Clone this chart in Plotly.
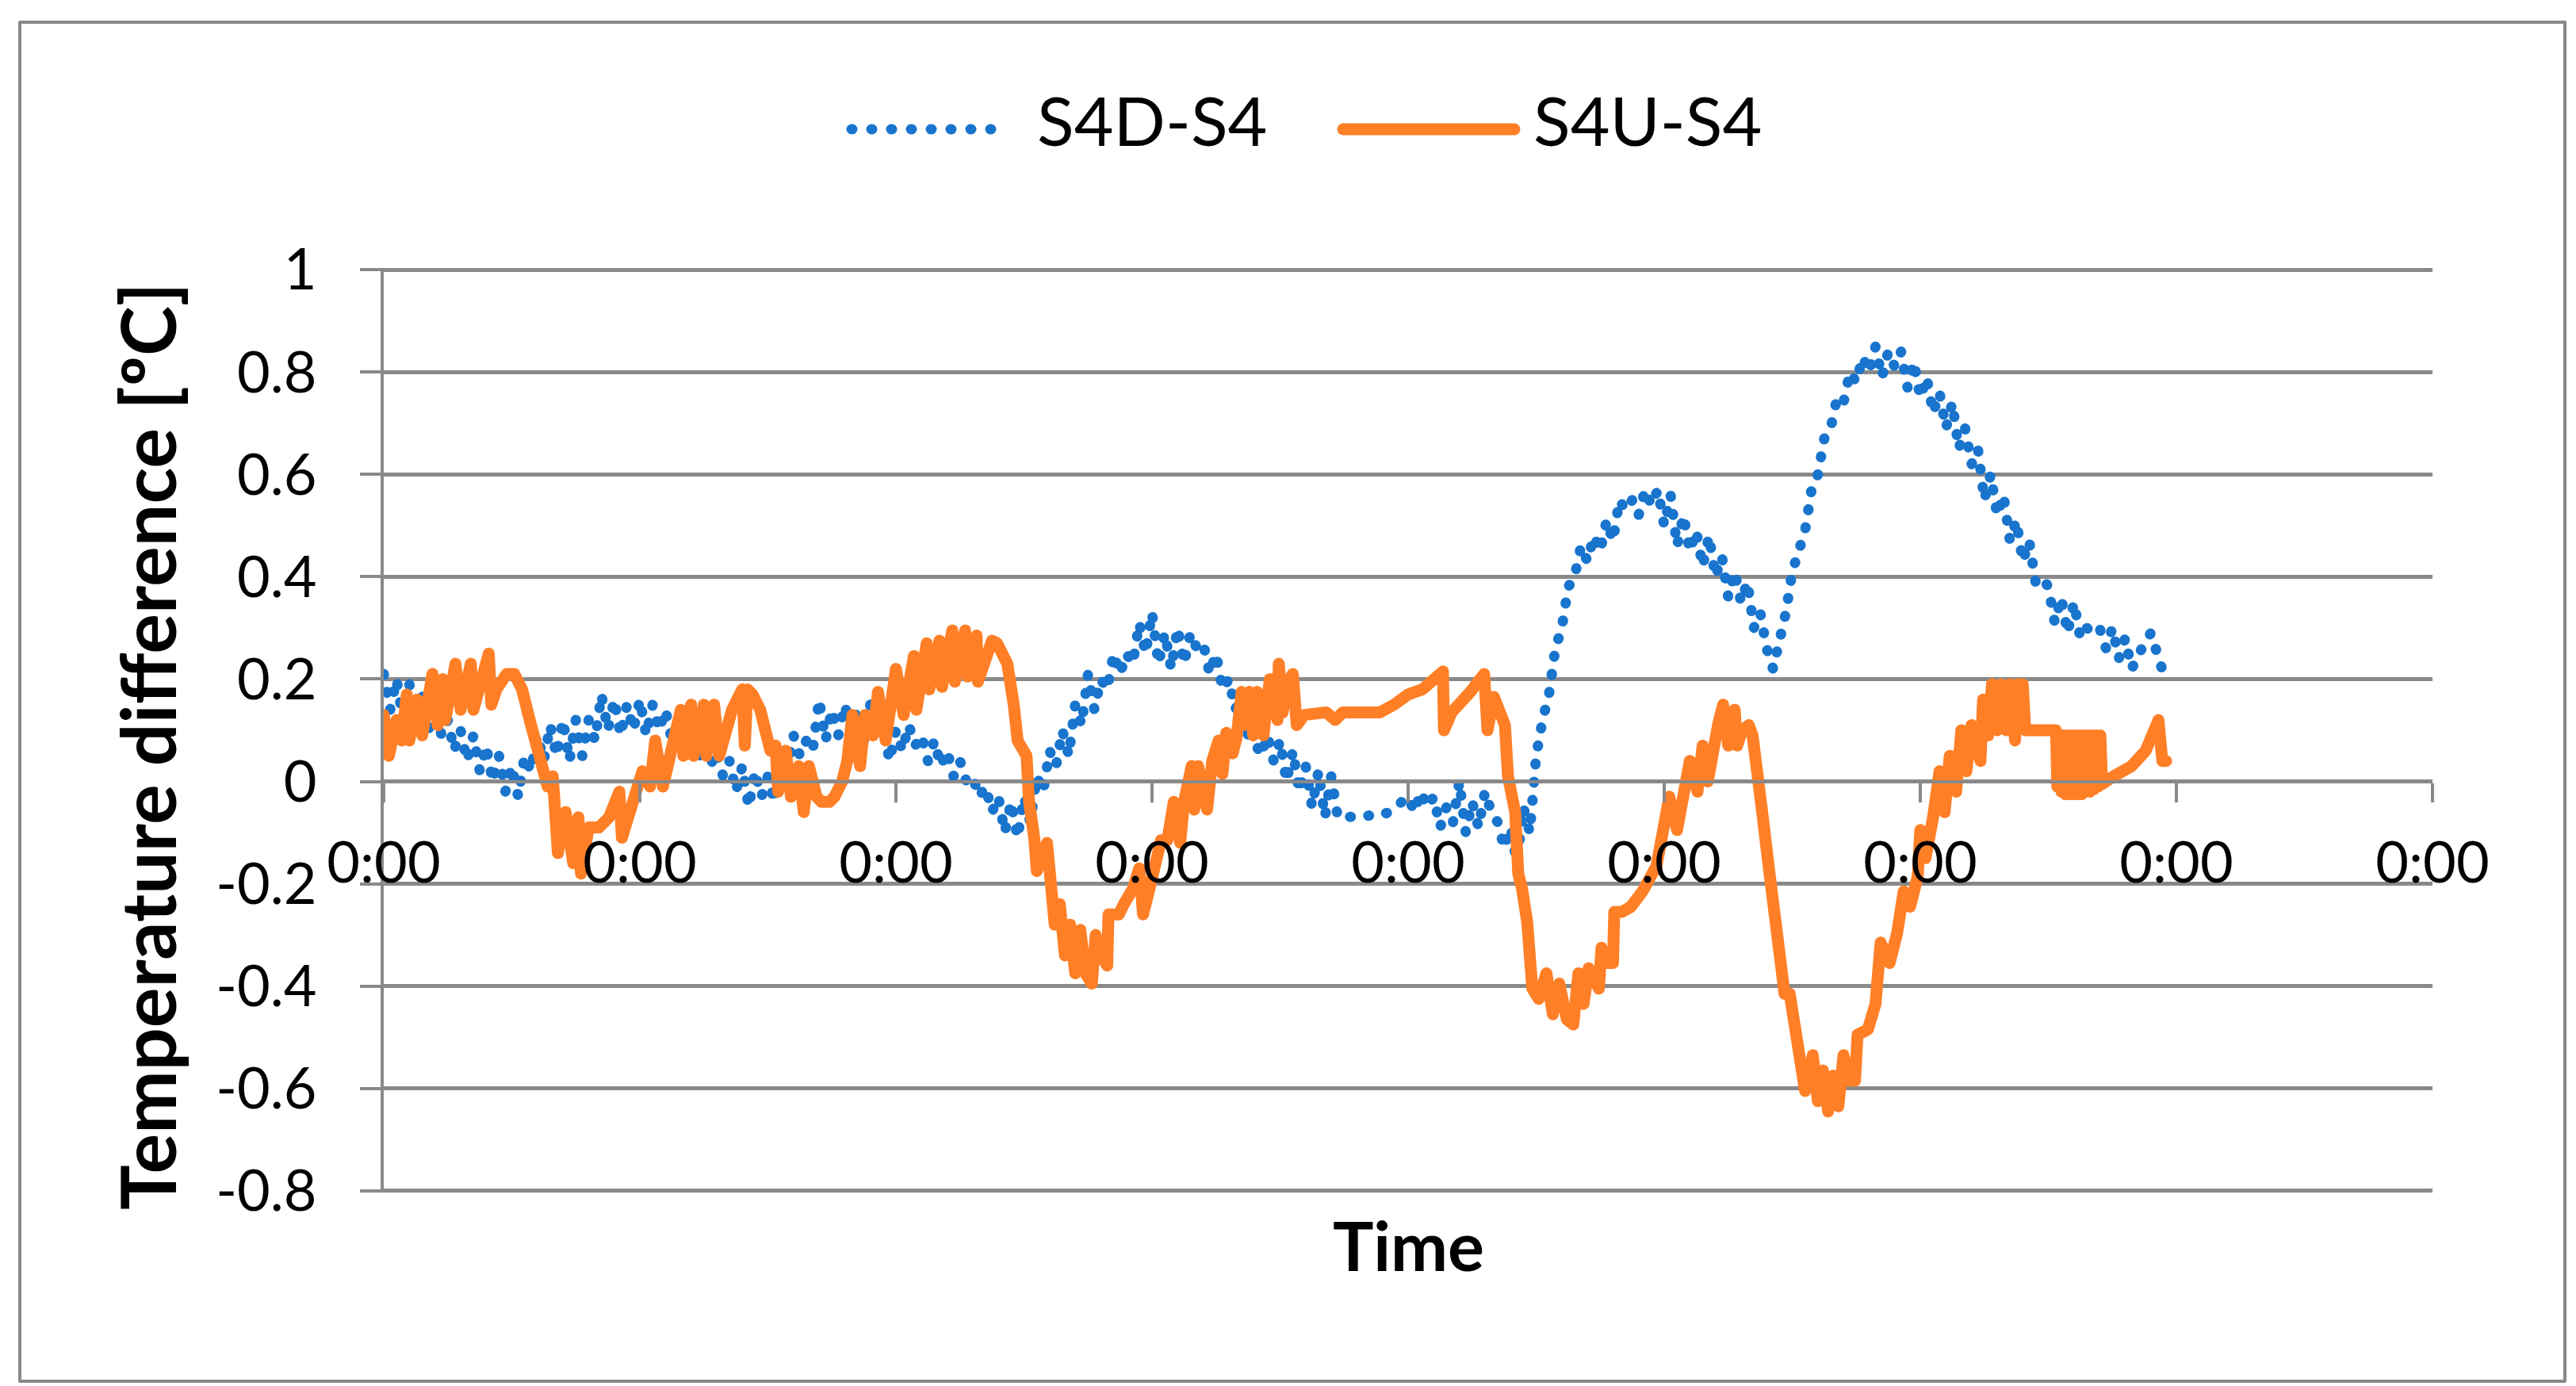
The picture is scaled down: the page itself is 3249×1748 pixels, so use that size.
import plotly.graph_objects as go

# ---------------- data ----------------
x_tick_vals = [0, 1, 2, 3, 4, 5, 6, 7, 8]
x_tick_text = ["0:00", "0:00", "0:00", "0:00", "0:00", "0:00", "0:00", "0:00", "0:00"]
y_tick_vals = [1, 0.8, 0.6, 0.4, 0.2, 0, -0.2, -0.4, -0.6, -0.8]
y_tick_text = ["1", "0.8", "0.6", "0.4", "0.2", "0", "-0.2", "-0.4", "-0.6", "-0.8"]

series_names = ["S4D-S4", "S4U-S4"]

# S4D-S4 sampled at a regular time step (axis units)
s4d_step = 0.025
s4d_y = [
    0.21, 0.14, 0.20, 0.12, 0.19, 0.13, 0.17, 0.10, 0.17, 0.09,
    0.12, 0.06, 0.10, 0.04, 0.09, 0.02, 0.07, 0.00, 0.05, -0.02,
    0.03, -0.03, 0.05, 0.02, 0.09, 0.04, 0.11, 0.05, 0.12, 0.04,
    0.12, 0.05, 0.12, 0.08, 0.17, 0.10, 0.16, 0.09, 0.15, 0.10,
    0.16, 0.09, 0.15, 0.10, 0.14, 0.08, 0.12, 0.05, 0.08, 0.04,
    0.07, 0.03, 0.06, 0.01, 0.04, -0.02, 0.03, -0.05, 0.02, -0.03,
    0.01, -0.04, 0.05, 0.02, 0.09, 0.05, 0.08, 0.06, 0.16, 0.08,
    0.14, 0.09, 0.15, 0.10, 0.14, 0.08, 0.15, 0.09, 0.11, 0.04,
    0.10, 0.06, 0.11, 0.07, 0.09, 0.04, 0.08, 0.03, 0.06, 0.01,
    0.04, 0.00, 0.01, -0.03, -0.01, -0.06, -0.03, -0.10, -0.04, -0.11,
    -0.03, -0.08, 0.01, -0.02, 0.06, 0.03, 0.10, 0.05, 0.15, 0.11,
    0.21, 0.14, 0.20, 0.18, 0.25, 0.21, 0.25, 0.23, 0.31, 0.25,
    0.33, 0.23, 0.29, 0.22, 0.30, 0.23, 0.29, 0.26, 0.27, 0.21,
    0.25, 0.18, 0.20, 0.14, 0.17, 0.09, 0.08, 0.05, 0.09, 0.04,
    0.08, 0.00, 0.06, -0.02, 0.03, -0.05, 0.02, -0.07, 0.01, -0.07,
    -0.07, -0.07, -0.07, -0.07, -0.07, -0.07, -0.065, -0.06, -0.05, -0.04,
    -0.03, -0.06, -0.02, -0.05, -0.03, -0.09, -0.05, -0.08, 0.00, -0.10,
    -0.04, -0.09, -0.02, -0.06, -0.08, -0.13, -0.09, -0.16, -0.05, -0.10,
    0.05, 0.12, 0.17, 0.26, 0.30, 0.38, 0.40, 0.46, 0.43, 0.48,
    0.45, 0.51, 0.47, 0.55, 0.53, 0.55, 0.52, 0.57, 0.54, 0.57,
    0.50, 0.56, 0.46, 0.52, 0.45, 0.49, 0.42, 0.48, 0.40, 0.44,
    0.36, 0.41, 0.35, 0.39, 0.30, 0.33, 0.26, 0.22, 0.27, 0.33,
    0.41, 0.46, 0.49, 0.57, 0.60, 0.67, 0.69, 0.75, 0.74, 0.80,
    0.78, 0.83, 0.80, 0.85, 0.79, 0.84, 0.81, 0.84, 0.77, 0.82,
    0.75, 0.79, 0.72, 0.76, 0.69, 0.74, 0.65, 0.69, 0.62, 0.65,
    0.55, 0.60, 0.52, 0.56, 0.47, 0.51, 0.43, 0.47, 0.39, 0.40,
    0.38, 0.31, 0.36, 0.29, 0.35, 0.28, 0.30, 0.29, 0.30, 0.26,
    0.30, 0.24, 0.28, 0.22, 0.25, 0.27, 0.29, 0.24, 0.21,
]
s4d_x = [round(i * s4d_step, 4) for i in range(len(s4d_y))]

# S4U-S4 (time in axis units, value in degC)
s4u_x = [
    0.00, 0.02, 0.05, 0.07, 0.09, 0.10, 0.13, 0.15, 0.19, 0.21,
    0.23, 0.24, 0.28, 0.30, 0.34, 0.35, 0.41, 0.42, 0.44, 0.48,
    0.51, 0.54, 0.57, 0.60, 0.62, 0.64, 0.66, 0.68, 0.71, 0.74,
    0.76, 0.77, 0.80, 0.84, 0.88, 0.92, 0.93, 0.97, 1.01, 1.04,
    1.06, 1.09, 1.12, 1.16, 1.17, 1.20, 1.21, 1.25, 1.26, 1.29,
    1.31, 1.36, 1.40, 1.41, 1.42, 1.44, 1.47, 1.49, 1.51, 1.53,
    1.54, 1.57, 1.59, 1.62, 1.64, 1.66, 1.69, 1.71, 1.74, 1.76,
    1.79, 1.81, 1.83, 1.86, 1.88, 1.91, 1.93, 1.96, 2.00, 2.03,
    2.07, 2.08, 2.12, 2.13, 2.17, 2.18, 2.22, 2.23, 2.27, 2.28,
    2.315, 2.32, 2.375, 2.395, 2.435, 2.46, 2.475, 2.51, 2.52, 2.54,
    2.55, 2.59, 2.60, 2.61, 2.62, 2.64, 2.66, 2.68, 2.70, 2.72,
    2.74, 2.765, 2.78, 2.80, 2.825, 2.83, 2.87, 2.89, 2.925, 2.95,
    2.965, 2.99, 3.02, 3.035, 3.06, 3.085, 3.11, 3.125, 3.155, 3.165,
    3.18, 3.215, 3.235, 3.26, 3.275, 3.29, 3.315, 3.33, 3.35, 3.355,
    3.38, 3.395, 3.41, 3.435, 3.46, 3.49, 3.495, 3.51, 3.53, 3.55,
    3.565, 3.595, 3.68, 3.715, 3.745, 3.89, 3.945, 4.00, 4.056, 4.136,
    4.14, 4.17, 4.243, 4.297, 4.31, 4.335, 4.378, 4.39, 4.418, 4.43,
    4.445, 4.465, 4.485, 4.51, 4.54, 4.565, 4.59, 4.62, 4.645, 4.665,
    4.685, 4.705, 4.745, 4.755, 4.78, 4.80, 4.805, 4.835, 4.87, 4.915,
    4.97, 4.995, 5.02, 5.05, 5.075, 5.10, 5.13, 5.15, 5.17, 5.19,
    5.21, 5.23, 5.25, 5.275, 5.285, 5.305, 5.33, 5.345, 5.37, 5.385,
    5.41, 5.43, 5.45, 5.47, 5.49, 5.51, 5.53, 5.55, 5.58, 5.60,
    5.62, 5.64, 5.66, 5.68, 5.70, 5.72, 5.745, 5.755, 5.795, 5.825,
    5.845, 5.88, 5.91, 5.935, 5.96, 5.99, 6.00, 6.02, 6.05, 6.075,
    6.095, 6.115, 6.14, 6.16, 6.18, 6.20, 6.235, 6.245, 6.265, 6.28,
    6.30, 6.315, 6.335, 6.35, 6.37, 6.38, 6.40, 6.41, 6.53, 6.535,
    6.543, 6.551, 6.559, 6.567, 6.575, 6.583, 6.591, 6.599, 6.607, 6.615,
    6.623, 6.631, 6.639, 6.647, 6.655, 6.663, 6.671, 6.679, 6.687, 6.695,
    6.703, 6.71, 6.755, 6.825, 6.88, 6.91, 6.93, 6.945, 6.96,
]
s4u_y = [
    0.13, 0.05, 0.12, 0.08, 0.17, 0.08, 0.16, 0.09, 0.21, 0.11,
    0.20, 0.12, 0.23, 0.14, 0.23, 0.14, 0.25, 0.15, 0.18, 0.21,
    0.21, 0.18, 0.12, 0.06, 0.04, -0.01, 0.01, -0.14, -0.06, -0.16,
    -0.07, -0.18, -0.09, -0.09, -0.07, -0.02, -0.11, -0.04, 0.02, -0.01,
    0.08, -0.01, 0.06, 0.14, 0.05, 0.15, 0.05, 0.15, 0.05, 0.15,
    0.05, 0.14, 0.18, 0.07, 0.18, 0.17, 0.14, 0.10, 0.06, 0.07,
    -0.02, 0.06, -0.03, 0.03, -0.06, 0.03, -0.03, -0.04, -0.04, -0.03,
    0.00, 0.04, 0.13, 0.03, 0.13, 0.09, 0.175, 0.08, 0.22, 0.13,
    0.245, 0.14, 0.27, 0.18, 0.275, 0.185, 0.295, 0.195, 0.295, 0.205,
    0.285, 0.195, 0.275, 0.27, 0.23, 0.15, 0.08, 0.05, -0.04, -0.11,
    -0.175, -0.12, -0.19, -0.24, -0.28, -0.24, -0.34, -0.28, -0.375, -0.29,
    -0.375, -0.395, -0.30, -0.34, -0.36, -0.26, -0.26, -0.24, -0.21, -0.17,
    -0.26, -0.21, -0.16, -0.115, -0.115, -0.04, -0.12, -0.04, 0.03, -0.055,
    0.03, -0.055, 0.04, 0.08, 0.015, 0.095, 0.055, 0.085, 0.175, 0.11,
    0.175, 0.09, 0.175, 0.09, 0.20, 0.12, 0.23, 0.135, 0.195, 0.21,
    0.11, 0.13, 0.135, 0.12, 0.135, 0.135, 0.15, 0.17, 0.18, 0.215,
    0.10, 0.135, 0.175, 0.21, 0.10, 0.165, 0.11, 0.01, -0.06, -0.18,
    -0.21, -0.275, -0.405, -0.425, -0.375, -0.455, -0.395, -0.465, -0.475, -0.375,
    -0.435, -0.365, -0.405, -0.325, -0.355, -0.355, -0.255, -0.255, -0.245, -0.215,
    -0.165, -0.095, -0.03, -0.095, -0.01, 0.04, -0.02, 0.07, 0.00, 0.07,
    0.11, 0.15, 0.07, 0.14, 0.07, 0.10, 0.11, 0.09, 0.01, -0.07,
    -0.175, -0.265, -0.365, -0.415, -0.415, -0.475, -0.555, -0.605, -0.535, -0.625,
    -0.565, -0.645, -0.575, -0.635, -0.535, -0.585, -0.585, -0.495, -0.485, -0.435,
    -0.315, -0.355, -0.295, -0.215, -0.245, -0.185, -0.095, -0.15, -0.07, 0.02,
    -0.06, 0.05, -0.02, 0.10, 0.02, 0.11, 0.04, 0.16, 0.09, 0.19,
    0.10, 0.19, 0.10, 0.19, 0.08, 0.19, 0.19, 0.10, 0.10, -0.01,
    0.09, -0.02, 0.09, -0.025, 0.09, -0.025, 0.09, -0.025, 0.09, -0.025,
    0.09, -0.025, 0.09, -0.02, 0.09, -0.02, 0.09, -0.015, 0.09, -0.01,
    0.09, -0.005, 0.01, 0.03, 0.06, 0.10, 0.12, 0.04, 0.04,
]
assert len(s4u_x) == len(s4u_y)

# ---------------- style ----------------
W, H = 3249, 1748
L, R, T, B = 476, 189, 330, 252
PW, PH = W - L - R, H - T - B
Y_RANGE = [-0.8035, 1.0035]
BLUE = "#1874CD"
ORANGE = "#FF7F27"
GRID = "#898989"
FONT = "Lato"


def px_x(px):
    return (px - L) / PW


def px_y(py):
    return (H - B - py) / PH


fig = go.Figure()
fig.add_trace(go.Scatter(
    x=s4d_x, y=s4d_y, mode="lines", name=series_names[0], showlegend=False,
    line=dict(color=BLUE, width=13, dash="1px,22px"), hoverinfo="skip"))
fig.add_trace(go.Scatter(
    x=s4u_x, y=s4u_y, mode="lines", name=series_names[1], showlegend=False,
    line=dict(color=ORANGE, width=15), hoverinfo="skip"))

tick_font = dict(family=FONT, size=72, color="black")

fig.update_layout(
    width=W, height=H,
    margin=dict(l=L, r=R, t=T, b=B),
    paper_bgcolor="white", plot_bgcolor="white",
    xaxis=dict(
        range=[0, 8], tickmode="array", tickvals=x_tick_vals, ticktext=x_tick_text,
        anchor="free", position=(0 - Y_RANGE[0]) / (Y_RANGE[1] - Y_RANGE[0]),
        showline=True, linecolor=GRID, linewidth=4,
        ticks="outside", ticklen=24, tickwidth=4, tickcolor=GRID,
        showgrid=False, zeroline=False, tickfont=tick_font,
        ticklabelstandoff=15,
    ),
    yaxis=dict(
        range=Y_RANGE, tickmode="array", tickvals=y_tick_vals, ticktext=y_tick_text,
        showgrid=True, gridcolor=GRID, gridwidth=5,
        showline=True, linecolor=GRID, linewidth=4,
        ticks="outside", ticklen=26, tickwidth=4, tickcolor=GRID,
        zeroline=False, tickfont=tick_font, ticklabelstandoff=40,
    ),
    showlegend=False,
)

# chart border
fig.add_shape(type="rect", xref="paper", yref="paper",
              x0=px_x(17), x1=px_x(3227), y0=px_y(1734), y1=px_y(20),
              line=dict(color=GRID, width=4), layer="below")

# legend (drawn as sample lines + labels)
leg_y = px_y(155)
fig.add_shape(type="line", xref="paper", yref="paper",
              x0=px_x(1066), x1=px_x(1266), y0=leg_y, y1=leg_y,
              line=dict(color=BLUE, width=13, dash="1px,24px"))
fig.add_shape(type="line", xref="paper", yref="paper",
              x0=px_x(1686), x1=px_x(1902), y0=leg_y, y1=leg_y,
              line=dict(color=ORANGE, width=15))
leg_text_y = px_y(143)
fig.add_annotation(text=series_names[0], xref="paper", yref="paper",
                   x=px_x(1298), y=leg_text_y, xanchor="left", yanchor="middle",
                   showarrow=False, font=dict(family=FONT, size=86, color="black"))
fig.add_annotation(text=series_names[1], xref="paper", yref="paper",
                   x=px_x(1924), y=leg_text_y, xanchor="left", yanchor="middle",
                   showarrow=False, font=dict(family=FONT, size=86, color="black"))

# axis titles
fig.add_annotation(text="Time", xref="paper", yref="paper",
                   x=px_x(1768), y=px_y(1561), xanchor="center", yanchor="middle",
                   showarrow=False,
                   font=dict(family=FONT, size=86, color="black", weight="bold"))
fig.add_annotation(text="Temperature difference [ºC]", xref="paper", yref="paper",
                   x=px_x(177), y=px_y(933), xanchor="center", yanchor="middle",
                   textangle=-90, showarrow=False,
                   font=dict(family=FONT, size=95, color="black", weight="bold"))

css_js = (
    "var s=document.createElement('style');"
    "s.textContent='.scatterlayer path.js-line{stroke-linecap:round;stroke-linejoin:round;}"
    " .shapelayer path{stroke-linecap:round;stroke-linejoin:round;}';"
    "document.head.appendChild(s);"
)
fig.write_html("out.html", post_script=css_js)
